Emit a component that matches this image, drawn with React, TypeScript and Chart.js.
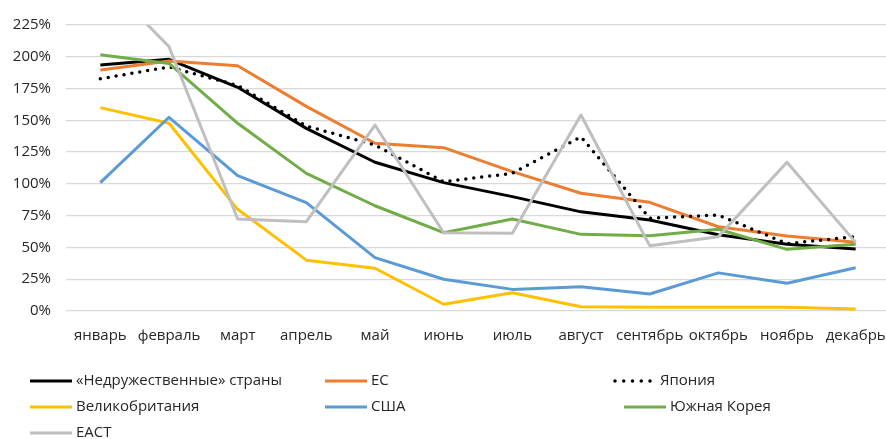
import React, { useEffect, useRef } from "react";
import { Chart, registerables } from "chart.js";

Chart.register(...registerables);

const months = ["январь", "февраль", "март", "апрель", "май", "июнь", "июль", "август", "сентябрь", "октябрь", "ноябрь", "декабрь"];

const unfriendly = [193.5, 198, 176, 143.7, 117, 101, 90, 78, 71.6, 60, 52.5, 48.8];
const eu = [189.6, 196.7, 193, 161, 132, 128.5, 109.6, 92.6, 85.5, 66.3, 59, 54];
const japan = [182.7, 192, 177.5, 145.5, 130.6, 101.7, 108.3, 137, 73, 75.5, 53, 58.5];
const uk = [160, 147.7, 80, 40, 33.6, 5.3, 14.4, 3.4, 2.9, 2.9, 2.9, 1.6];
const usa = [101, 152.4, 106.5, 85.2, 42, 25, 17, 19, 13.4, 30, 21.8, 34];
const korea = [201.6, 194.8, 147.7, 108.3, 82.8, 61.6, 72.4, 60.3, 59.2, 64.3, 48.5, 52.5];
const eact = [263, 208, 72.4, 70.3, 146.3, 61.6, 61.1, 154.2, 51.4, 58.5, 117, 54];

const seriesNames = ["«Недружественные» страны", "ЕС", "Япония", "Великобритания", "США", "Южная Корея", "ЕАСТ"];
const seriesColors = ["#000000", "#ED7D31", "#000000", "#FFC000", "#5B9BD5", "#70AD47", "#BFBFBF"];
const seriesData = [unfriendly, eu, japan, uk, usa, korea, eact];

const FONT = "'Open Sans', 'Noto Sans', sans-serif";
const TEXT = "#262626";

const legendPlugin = {
  id: "gridLegend",
  afterDraw(chart: any) {
    const ctx = chart.ctx;
    const colX = [30, 325, 624];
    const rowY = [381, 407, 433];
    const items = [...chart.data.datasets].reverse();
    ctx.save();
    items.forEach((ds: any, i: number) => {
      const x = colX[i % 3];
      const y = rowY[Math.floor(i / 3)];
      const dotted = ds.borderDash && ds.borderDash.length;
      ctx.strokeStyle = ds.borderColor;
      let tx = x + 46;
      if (dotted) {
        ctx.lineWidth = 3.5;
        ctx.lineCap = "round";
        ctx.setLineDash([0, 8.75]);
        ctx.beginPath();
        ctx.moveTo(x - 9, y);
        ctx.lineTo(x + 27, y);
        ctx.stroke();
        tx = x + 36;
      } else {
        ctx.lineWidth = 3;
        ctx.lineCap = "butt";
        ctx.setLineDash([]);
        ctx.beginPath();
        ctx.moveTo(x, y);
        ctx.lineTo(x + 42, y);
        ctx.stroke();
      }
      ctx.setLineDash([]);
      ctx.fillStyle = TEXT;
      ctx.font = `15px ${FONT}`;
      ctx.textBaseline = "middle";
      ctx.textAlign = "left";
      ctx.fillText(ds.label, tx, y);
    });
    ctx.restore();
  },
};

export default function App() {
  const ref = useRef<HTMLCanvasElement | null>(null);
  useEffect(() => {
    if (!ref.current) return;
    const datasets = seriesNames.map((name, i) => {
      const dotted = i === 2;
      return {
        label: name,
        data: seriesData[i],
        borderColor: seriesColors[i],
        backgroundColor: seriesColors[i],
        borderWidth: dotted ? 3.5 : 3,
        borderDash: dotted ? [0, 8] : [],
        borderCapStyle: dotted ? "round" : "butt",
        borderJoinStyle: "round",
        pointRadius: 0,
        tension: 0,
        fill: false,
      };
    });
    const chart = new Chart(ref.current, {
      type: "line",
      data: {
        labels: months,
        datasets: datasets.reverse() as any,
      },
      options: {
        responsive: false,
        animation: false,
        layout: { padding: { top: 25, bottom: 88, right: 2, left: 0 } },
        plugins: { legend: { display: false }, tooltip: { enabled: false } },
        scales: {
          x: {
            offset: true,
            grid: { display: false },
            border: { display: false },
            ticks: { color: TEXT, font: { family: FONT, size: 15 }, padding: 8, maxRotation: 0, autoSkip: false },
            afterFit: (s: any) => {
              s.height = 40;
              s.paddingLeft = 0;
              s.paddingRight = 0;
            },
          },
          y: {
            min: 0,
            max: 225,
            grid: { color: "#D9D9D9", lineWidth: 1.3, drawTicks: false },
            border: { display: false },
            ticks: {
              stepSize: 25,
              color: TEXT,
              padding: 15,
              font: { family: FONT, size: 15 },
              callback: (v: any) => `${v}%`,
            },
            afterFit: (s: any) => {
              s.width = 66;
              s.paddingTop = 0;
              s.paddingBottom = 0;
            },
          },
        },
      },
      plugins: [legendPlugin],
    } as any);
    return () => chart.destroy();
  }, []);
  return (
    <div style={{ position: "absolute", left: 0, top: 0, width: 886, height: 439, overflow: "hidden", background: "#fff" }}>
      <canvas ref={ref} width={892} height={439} style={{ display: "block" }} />
    </div>
  );
}
